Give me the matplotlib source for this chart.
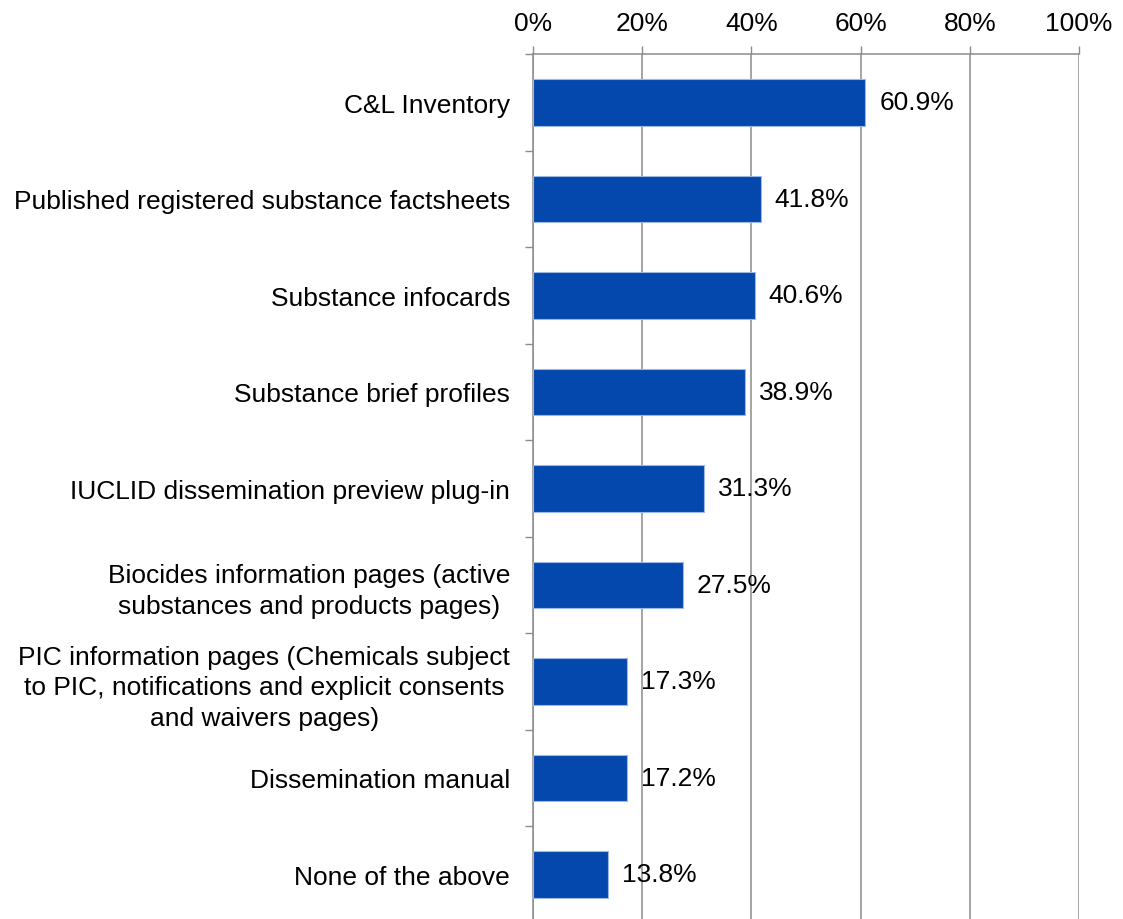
import numpy as np
import matplotlib
matplotlib.use("Agg")
import matplotlib.pyplot as plt
from matplotlib.ticker import FixedLocator, PercentFormatter

plt.rcParams['font.family'] = ['Liberation Sans', 'DejaVu Sans']

categories = [
    "C&L Inventory",
    "Published registered substance factsheets",
    "Substance infocards",
    "Substance brief profiles",
    "IUCLID dissemination preview plug-in",
    "Biocides information pages (active\nsubstances and products pages)",
    "PIC information pages (Chemicals subject\nto PIC, notifications and explicit consents\nand waivers pages)",
    "Dissemination manual",
    "None of the above",
]
values = [60.9, 41.8, 40.6, 38.9, 31.3, 27.5, 17.3, 17.2, 13.8]
xticks = [0, 20, 40, 60, 80, 100]

fig = plt.figure(figsize=(11.23, 9.2), dpi=100)
ax = fig.add_axes([0.4746, -0.004, 0.4862, 0.944])

y = np.arange(len(categories))
ax.barh(y, values, height=0.48, color='#0447AD', edgecolor='#9DB8E3', linewidth=0.8, zorder=3)

for yi, v in zip(y, values):
    ax.text(v + 2.5, yi, f"{v:.1f}%", va='center', ha='left', fontsize=19, color='black', zorder=4)

ax.set_xlim(0, 100)
ax.set_ylim(len(categories) - 0.5, -0.5)

# x axis on top
ax.xaxis.set_ticks_position('top')
ax.xaxis.set_label_position('top')
ax.set_xticks(xticks)
ax.xaxis.set_major_formatter(PercentFormatter(decimals=0))
ax.tick_params(axis='x', direction='out', length=6, width=1, color='#8c8c8c',
               labelsize=19, pad=8)
ax.grid(axis='x', color='#8c8c8c', linewidth=1.1, zorder=0)

# category labels, ticks between categories
ax.set_yticks(y)
ax.set_yticklabels(categories, multialignment='center', linespacing=1.35)
ax.tick_params(axis='y', which='major', length=0, labelsize=19, pad=16.5)
ax.yaxis.set_minor_locator(FixedLocator(np.arange(-0.5, len(categories), 1.0)))
ax.tick_params(axis='y', which='minor', direction='out', length=6, width=1, color='#8c8c8c')

for side in ['right', 'bottom']:
    ax.spines[side].set_visible(False)
for side in ['top', 'left']:
    ax.spines[side].set_color('#8c8c8c')
    ax.spines[side].set_linewidth(1.1)

fig.savefig("out.png", dpi=100)
